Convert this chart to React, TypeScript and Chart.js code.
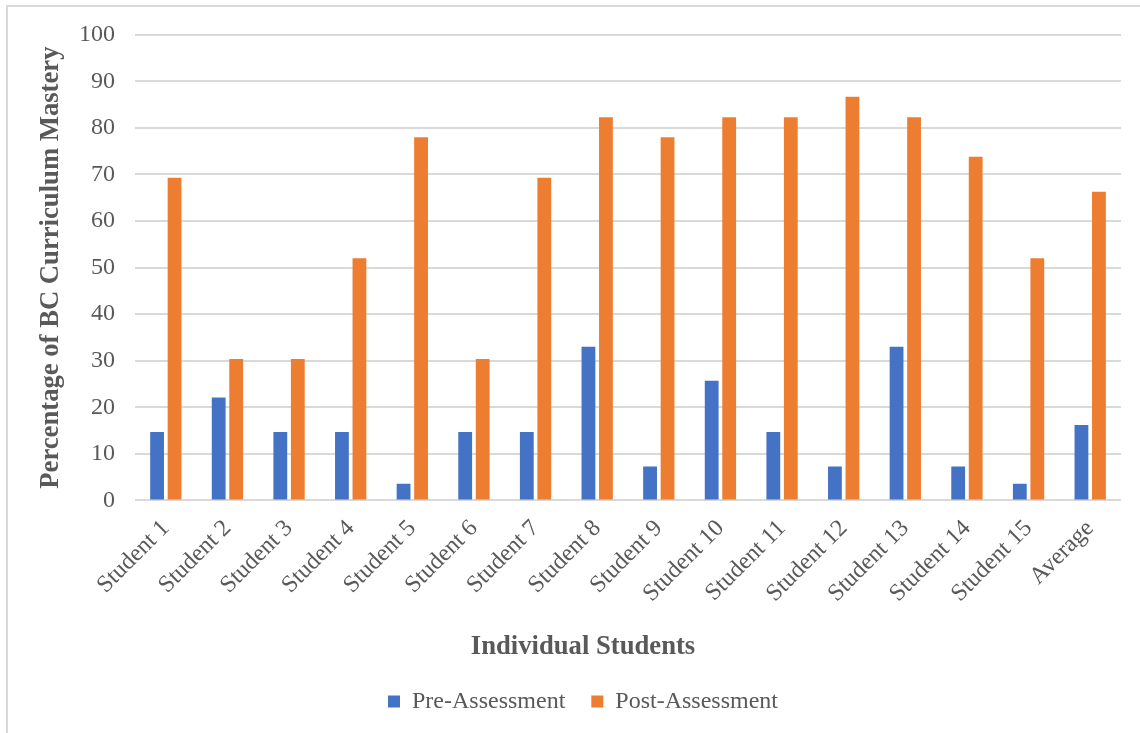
import React, { useEffect, useRef } from "react";
import { Chart, registerables } from "chart.js";

Chart.register(...registerables);

// Category labels along the x axis
const categories = [
  "Student 1",
  "Student 2",
  "Student 3",
  "Student 4",
  "Student 5",
  "Student 6",
  "Student 7",
  "Student 8",
  "Student 9",
  "Student 10",
  "Student 11",
  "Student 12",
  "Student 13",
  "Student 14",
  "Student 15",
  "Average",
];

// Percentage of curriculum mastery before instruction
const preAssessment = [
  14.7, 22.1, 14.7, 14.7, 3.6, 14.7, 14.7, 33.0, 7.3, 25.7, 14.7, 7.3, 33.0, 7.3, 3.6, 16.2,
];

// Percentage of curriculum mastery after instruction
const postAssessment = [
  69.3, 30.4, 30.4, 52.0, 78.0, 30.4, 69.3, 82.3, 78.0, 82.3, 82.3, 86.7, 82.3, 73.8, 52.0, 66.3,
];

// Value axis range and tick step
const yAxisMin = 0;
const yAxisMax = 100;
const yAxisStep = 10;

const TEXT_GREY = "#595959";
const SERIF = "'Liberation Serif', 'Times New Roman', serif";

export default function App() {
  const canvasRef = useRef<HTMLCanvasElement>(null);

  useEffect(() => {
    const canvas = canvasRef.current;
    if (!canvas) return;

    Chart.defaults.font.family = SERIF;
    Chart.defaults.color = TEXT_GREY;

    const chart = new Chart(canvas, {
      type: "bar",
      data: {
        labels: categories,
        datasets: [
          {
            label: "Pre-Assessment",
            data: preAssessment,
            backgroundColor: "#4472C4",
            borderWidth: 0,
          },
          {
            label: "Post-Assessment",
            data: postAssessment,
            backgroundColor: "#ED7D31",
            borderWidth: 0,
          },
        ],
      },
      options: {
        responsive: false,
        animation: false,
        devicePixelRatio: 1,
        layout: { padding: { left: 37, right: 37, top: 27.7, bottom: 9.6 } },
        datasets: {
          bar: { categoryPercentage: 0.568, barPercentage: 0.789 },
        },
        scales: {
          x: {
            grid: { display: false },
            border: { display: false },
            ticks: {
              autoSkip: false,
              maxRotation: 45,
              minRotation: 45,
              color: TEXT_GREY,
              font: { family: SERIF, size: 24 },
              padding: 6,
            },
            afterFit: (scale: any) => {
              scale.height = 130.9;
            },
          },
          y: {
            min: yAxisMin,
            max: yAxisMax,
            ticks: {
              stepSize: yAxisStep,
              padding: 0,
              color: TEXT_GREY,
              font: { family: SERIF, size: 24 },
            },
            // invisible tick marks keep the labels clear of the plot edge
            grid: {
              color: "#d9d9d9",
              lineWidth: 2,
              drawTicks: true,
              tickLength: 20,
              tickColor: "rgba(0,0,0,0)",
            },
            border: { display: false },
            title: {
              display: true,
              text: "Percentage of BC Curriculum Mastery",
              color: TEXT_GREY,
              font: { family: SERIF, size: 26.67, weight: "bold" },
              padding: { top: -10, bottom: 0 },
            },
            afterFit: (scale: any) => {
              scale.width = 90;
            },
          },
        },
        plugins: {
          legend: {
            position: "bottom",
            labels: {
              boxWidth: 12,
              boxHeight: 12,
              padding: 26,
              color: TEXT_GREY,
              font: { family: SERIF, size: 24 },
            },
          },
          title: {
            display: true,
            position: "bottom",
            weight: 500,
            text: "Individual Students",
            color: TEXT_GREY,
            font: { family: SERIF, size: 26.67, weight: "bold" },
            padding: 0,
          },
          tooltip: { enabled: false },
        },
      },
    });

    return () => chart.destroy();
  }, []);

  return (
    <div
      style={{
        position: "fixed",
        left: 0,
        top: 0,
        width: 1140,
        height: 733,
        overflow: "hidden",
        background: "#ffffff",
      }}
    >
      <div
        style={{
          position: "absolute",
          left: 6,
          top: 5,
          width: 1200,
          height: 800,
          border: "2px solid #d9d9d9",
        }}
      />
      <canvas
        ref={canvasRef}
        width={1150}
        height={726}
        style={{ position: "absolute", left: 8, top: 7 }}
      />
    </div>
  );
}
